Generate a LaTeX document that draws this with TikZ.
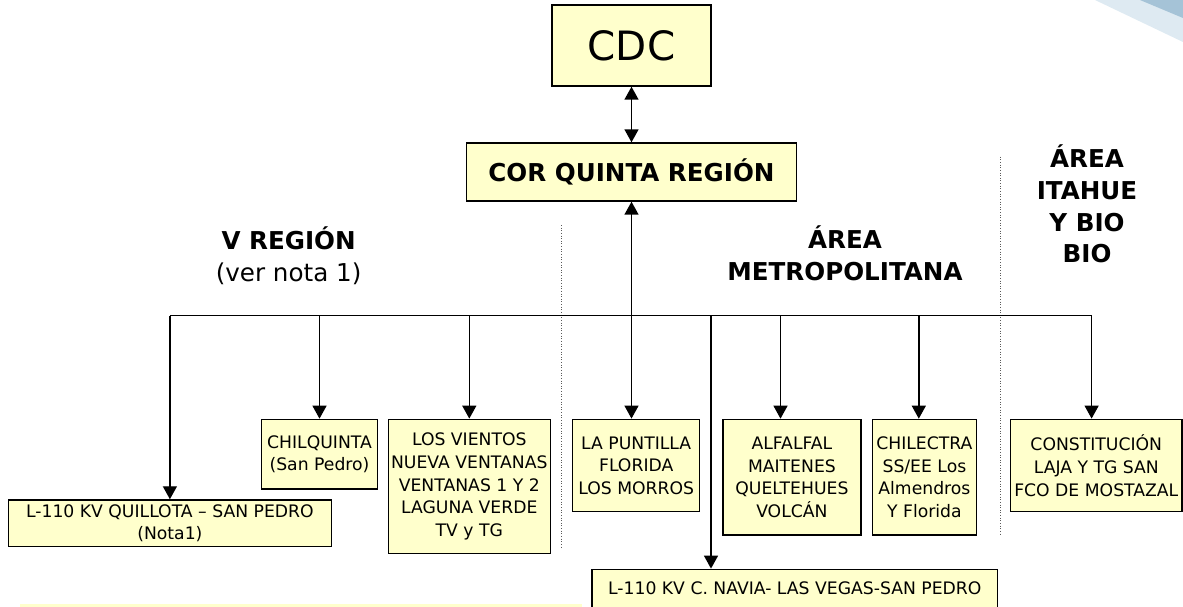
\documentclass[tikz,border=0pt]{standalone}
\usepackage{fontspec}
\setmainfont{DejaVu Sans}
\usetikzlibrary{arrows.meta}
\definecolor{boxYellow}{RGB}{255,255,204}
\definecolor{sepGray}{RGB}{90,90,90}
\definecolor{logoBlue}{RGB}{165,195,215}
\definecolor{logoPale}{RGB}{222,234,242}

\begin{document}
\begin{tikzpicture}[x = 0.02cm, y = -0.02cm]
\tikzstyle{boxStyle} = [draw, line width = 0.8pt, fill = boxYellow, align = center, inner sep = 1pt, font = \fontsize{9.8}{12.9}\selectfont]
\tikzstyle{headStyle} = [align = center, font = \fontsize{14}{18}\selectfont\bfseries]
\tikzstyle{edgeStyle} = [line width = 0.8pt, -{Triangle[length = 0.26cm, width = 0.28cm]}]
\tikzstyle{bothStyle} = [line width = 0.8pt, {Triangle[length = 0.26cm, width = 0.28cm]}-{Triangle[length = 0.26cm, width = 0.28cm]}]
\tikzstyle{sepStyle} = [densely dotted, line width = 0.5pt, sepGray]
\useasboundingbox (0,0) rectangle (1183,606);
\fill[logoPale] (1095,0) -- (1183,0) -- (1183,42) -- cycle;
\fill[logoBlue] (1140,0) -- (1183,0) -- (1183,18) -- cycle;
\fill[boxYellow] (20,603.5) rectangle (582,612);
\node[boxStyle, minimum width = 3.18cm, minimum height = 1.62cm, font = \fontsize{23}{23}\selectfont] (cdc) at (631.5,45.5) {CDC};
\node[boxStyle, minimum width = 6.6cm, minimum height = 1.16cm, font = \fontsize{14}{18}\selectfont\bfseries] (cor) at (631.5,172) {COR QUINTA REGIÓN};
\node[boxStyle, minimum width = 6.46cm, minimum height = 0.934cm] (quil) at (169.9,523.3) {L-110 KV QUILLOTA – SAN PEDRO\\(Nota1)};
\node[boxStyle, minimum width = 2.31cm, minimum height = 1.394cm] (chil) at (319.5,454.2) {CHILQUINTA\\(San Pedro)};
\node[boxStyle, minimum width = 3.24cm, minimum height = 2.688cm] (vien) at (469.3,486.5) {LOS VIENTOS\\NUEVA VENTANAS\\VENTANAS 1 Y 2\\LAGUNA VERDE\\TV y TG};
\node[boxStyle, minimum width = 2.54cm, minimum height = 1.848cm] (punt) at (636.2,465.5) {LA PUNTILLA\\FLORIDA\\LOS MORROS};
\node[boxStyle, minimum width = 2.76cm, minimum height = 2.314cm] (alfa) at (791.9,477.2) {ALFALFAL\\MAITENES\\QUELTEHUES\\VOLCÁN};
\node[boxStyle, minimum width = 2.08cm, minimum height = 2.314cm] (chile) at (924.4,477.2) {CHILECTRA\\SS/EE Los\\Almendros\\Y Florida};
\node[boxStyle, minimum width = 3.43cm, minimum height = 1.848cm] (cons) at (1096.3,465.5) {CONSTITUCIÓN\\LAJA Y TG SAN\\FCO DE MOSTAZAL};
\node[boxStyle, minimum width = 8.12cm, minimum height = 0.76cm] (navia) at (794.8,588.3) {L-110 KV C. NAVIA- LAS VEGAS-SAN PEDRO};
\node[headStyle] (vreg) at (288.6,256) {V REGIÓN\\{\mdseries (ver nota 1)}};
\node[headStyle] (metro) at (845,253) {ÁREA\\METROPOLITANA};
\node[headStyle] (itahue) at (1087,204) {ÁREA\\ITAHUE\\Y BIO\\BIO};
\coordinate (bus) at (0,315.7);
\coordinate (dNavia) at (711,315.7);
\coordinate (dAlfa) at (780.5,315.7);
\coordinate (dChile) at (918.8,315.7);
\coordinate (dCons) at (1091.6,315.7);
\draw[sepStyle] (561.4,225) -- (561.4,546.7);
\draw[sepStyle] (1000,156.7) -- (1000,535);
\draw[bothStyle] (cdc.south) -- (cor.north);
\draw[bothStyle] (cor.south) -- (cor.south |- punt.north);
\draw[line width = 0.8pt] (quil.north |- bus) -- (dCons);
\draw[edgeStyle] (quil.north |- bus) -- (quil.north);
\draw[edgeStyle] (chil.north |- bus) -- (chil.north);
\draw[edgeStyle] (vien.north |- bus) -- (vien.north);
\draw[edgeStyle] (dNavia) -- (dNavia |- navia.north);
\draw[edgeStyle] (dAlfa) -- (dAlfa |- alfa.north);
\draw[edgeStyle] (dChile) -- (dChile |- chile.north);
\draw[edgeStyle] (dCons) -- (dCons |- cons.north);
\end{tikzpicture}
\end{document}
